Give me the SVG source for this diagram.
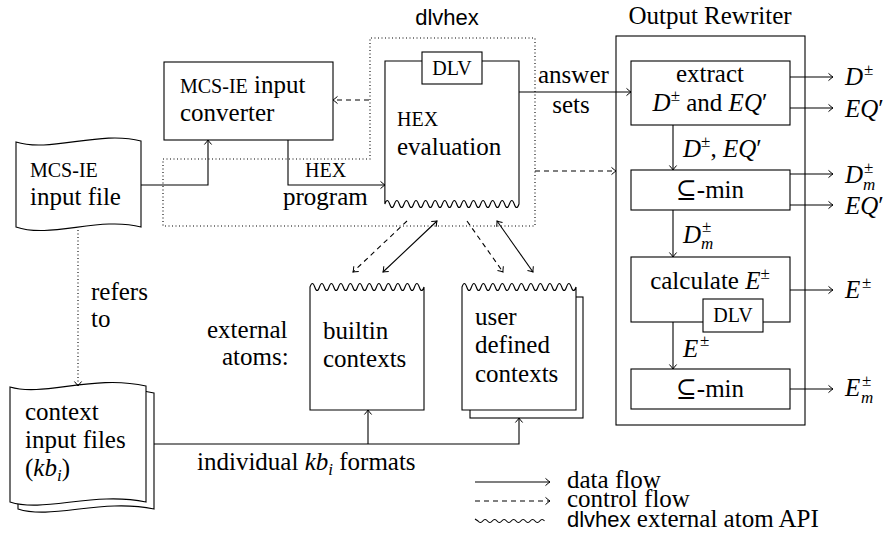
<svg xmlns="http://www.w3.org/2000/svg" width="886" height="540" viewBox="0 0 886 540" font-family="Liberation Serif, DejaVu Serif, serif">
<defs>
<style>
text{font-size:25px;fill:#000}
.sc{font-size:20px}
.sans{font-family:"Liberation Sans","DejaVu Sans",sans-serif;font-size:22px}
.mi{font-style:italic}
.sup{font-size:17px;font-style:normal}
.sub{font-size:17px;font-style:italic}
.box{fill:#fff;stroke:#000;stroke-width:1.1}
.ln{fill:none;stroke:#000;stroke-width:1.1}
.dash{stroke-dasharray:5 4}
.dot{stroke-dasharray:1 2.5}
</style>
<marker id="ah" viewBox="-6 -5 7 10" refX="0" refY="0" markerWidth="7" markerHeight="10" markerUnits="userSpaceOnUse" orient="auto-start-reverse">
<path d="M-4.5,-3.6 Q-1.5,-0.9 0,0 Q-1.5,0.9 -4.5,3.6" fill="none" stroke="#000" stroke-width="1" stroke-dasharray="none"/>
</marker>
</defs>
<rect width="886" height="540" fill="#fff"/>

<g id="dlvhex">
<path class="ln dot" d="M163,159 H370 V38 H535 V226 H163 Z"/>
<text class="sans" x="447" y="25" text-anchor="middle">dlvhex</text>
</g>

<g id="converter">
<rect class="box" x="164" y="62" width="169" height="78"/>
<text x="180" y="93"><tspan class="sc">MCS-IE</tspan> input</text>
<text x="180" y="121">converter</text>
</g>

<g id="inputfile">
<path class="box" d="M16,142 C50,153 100,130 141,141 V227 C100,216 50,239 16,227 Z"/>
<text class="sc" x="30" y="177">MCS-IE</text>
<text x="30" y="205">input file</text>
</g>

<g id="hexeval">
<path class="box" d="M385,61 H519 V204 q-2.39,7 -4.79,0 t-4.79,0 t-4.79,0 t-4.79,0 t-4.79,0 t-4.79,0 t-4.79,0 t-4.79,0 t-4.79,0 t-4.79,0 t-4.79,0 t-4.79,0 t-4.79,0 t-4.79,0 t-4.79,0 t-4.79,0 t-4.79,0 t-4.79,0 t-4.79,0 t-4.79,0 t-4.79,0 t-4.79,0 t-4.79,0 t-4.79,0 t-4.79,0 t-4.79,0 t-4.79,0 t-4.79,0 Z"/>
<rect class="box" x="422" y="52" width="60" height="32"/>
<text class="sc" x="452" y="75" text-anchor="middle" font-size="18">DLV</text>
<text class="sc" x="397" y="126">HEX</text>
<text x="397" y="155">evaluation</text>
</g>

<g id="builtin">
<path class="box" d="M310,410 V287 q2.375,-7 4.75,0 t4.75,0 t4.75,0 t4.75,0 t4.75,0 t4.75,0 t4.75,0 t4.75,0 t4.75,0 t4.75,0 t4.75,0 t4.75,0 t4.75,0 t4.75,0 t4.75,0 t4.75,0 t4.75,0 t4.75,0 t4.75,0 t4.75,0 t4.75,0 t4.75,0 t4.75,0 t4.75,0 V410 Z"/>
<text x="323" y="339">builtin</text>
<text x="323" y="367">contexts</text>
</g>

<g id="userdefined">
<rect class="box" x="470" y="297" width="113" height="121"/>
<path class="box" d="M462,410 V287 q2.375,-7 4.75,0 t4.75,0 t4.75,0 t4.75,0 t4.75,0 t4.75,0 t4.75,0 t4.75,0 t4.75,0 t4.75,0 t4.75,0 t4.75,0 t4.75,0 t4.75,0 t4.75,0 t4.75,0 t4.75,0 t4.75,0 t4.75,0 t4.75,0 t4.75,0 t4.75,0 t4.75,0 t4.75,0 V410 Z"/>
<text x="475" y="325">user</text>
<text x="475" y="353">defined</text>
<text x="475" y="382">contexts</text>
</g>

<g id="extatoms">
<text x="207" y="338">external</text>
<text x="222" y="365">atoms:</text>
</g>

<g id="contextfiles">
<path class="box" d="M18,394 C52,404 102,381 154,393 V509 C102,498 52,520 18,509 Z"/>
<path class="box" d="M10,387 C44,397 94,374 146,386 V502 C94,491 44,513 10,502 Z"/>
<text x="25" y="420">context</text>
<text x="25" y="448">input files</text>
<text x="25" y="476">(<tspan class="mi">kb</tspan><tspan class="sub" dy="5">i</tspan><tspan dy="-5">)</tspan></text>
</g>

<g id="rewriter">
<rect class="box" x="616" y="36" width="189" height="389"/>
<text x="710" y="24" text-anchor="middle">Output Rewriter</text>
</g>

<g id="extract">
<rect class="box" x="631" y="61" width="159" height="64"/>
<text x="710" y="82" text-anchor="middle">extract</text>
<text x="710" y="111" text-anchor="middle"><tspan class="mi">D</tspan><tspan class="sup" dy="-10">±</tspan><tspan dy="10"> and </tspan><tspan class="mi">EQ</tspan>′</text>
</g>

<g id="min1">
<rect class="box" x="631" y="170" width="159" height="40"/>
<text x="710" y="198" text-anchor="middle">⊆-min</text>
</g>

<g id="calculate">
<rect class="box" x="631" y="257" width="159" height="65"/>
<text x="710" y="289" text-anchor="middle">calculate <tspan class="mi">E</tspan><tspan class="sup" dy="-10">±</tspan></text>
<rect class="box" x="703" y="299" width="60" height="33"/>
<text class="sc" x="733" y="322" text-anchor="middle" font-size="18">DLV</text>
</g>

<g id="min2">
<rect class="box" x="631" y="369" width="159" height="40"/>
<text x="710" y="397" text-anchor="middle">⊆-min</text>
</g>

<g id="connectors">
<path class="ln" d="M141,185 H208 V140" marker-end="url(#ah)"/>
<path class="ln" d="M288,140 V185 H385" marker-end="url(#ah)"/>
<path class="ln dash" d="M369,100 H333" marker-end="url(#ah)"/>
<path class="ln" d="M519,92 H631" marker-end="url(#ah)"/>
<path class="ln dash" d="M535,171 H616" marker-end="url(#ah)"/>
<path class="ln" d="M790,77 H833" marker-end="url(#ah)"/>
<path class="ln" d="M790,108 H833" marker-end="url(#ah)"/>
<path class="ln" d="M673,125 V170" marker-end="url(#ah)"/>
<path class="ln" d="M790,174 H833" marker-end="url(#ah)"/>
<path class="ln" d="M790,205 H833" marker-end="url(#ah)"/>
<path class="ln" d="M673,210 V257" marker-end="url(#ah)"/>
<path class="ln" d="M790,290 H833" marker-end="url(#ah)"/>
<path class="ln" d="M673,322 V369" marker-end="url(#ah)"/>
<path class="ln" d="M790,389 H833" marker-end="url(#ah)"/>
<path class="ln dash" d="M407,221 L353,272" marker-end="url(#ah)"/>
<path class="ln" d="M437,221 L383,272" marker-start="url(#ah)" marker-end="url(#ah)"/>
<path class="ln dash" d="M467,221 L503,272" marker-end="url(#ah)"/>
<path class="ln" d="M497,221 L533,272" marker-start="url(#ah)" marker-end="url(#ah)"/>
<path class="ln dot" d="M78,230 V386" marker-end="url(#ah)"/>
<path class="ln" d="M154,444 H519 V418" marker-end="url(#ah)"/>
<path class="ln" d="M368,444 V410" marker-end="url(#ah)"/>
</g>

<g id="labels">
<text x="538" y="83">answer</text>
<text x="571" y="113" text-anchor="middle">sets</text>
<text class="sc" x="305" y="177">HEX</text>
<text x="283" y="205">program</text>
<text x="91" y="300">refers</text>
<text x="91" y="327">to</text>
<text x="197" y="470">individual <tspan class="mi">kb</tspan><tspan class="sub" dy="5">i</tspan><tspan dy="-5"> formats</tspan></text>
<text x="683" y="157"><tspan class="mi">D</tspan><tspan class="sup" dy="-10">±</tspan><tspan dy="10">, </tspan><tspan class="mi">EQ</tspan>′</text>
<text class="mi" x="683" y="243">D</text><text class="sup" x="702" y="232">±</text><text class="sub" x="701" y="249">m</text>
<text class="mi" x="683" y="357">E</text><text class="sup" x="700" y="346">±</text>
<text class="mi" x="845" y="85">D</text><text class="sup" x="864" y="75">±</text>
<text x="845" y="117"><tspan class="mi">EQ</tspan>′</text>
<text class="mi" x="845" y="183">D</text><text class="sup" x="864" y="173">±</text><text class="sub" x="863" y="190">m</text>
<text x="845" y="214"><tspan class="mi">EQ</tspan>′</text>
<text class="mi" x="845" y="298">E</text><text class="sup" x="862" y="288">±</text>
<text class="mi" x="845" y="396">E</text><text class="sup" x="862" y="386">±</text><text class="sub" x="861" y="403">m</text>
</g>

<g id="legend">
<path class="ln" d="M475,482 H550" marker-end="url(#ah)"/>
<path class="ln dash" d="M475,501 H550" marker-end="url(#ah)"/>
<path class="ln" d="M475,519 L478,521 q2.375,3 4.75,0 t4.75,0 t4.75,0 t4.75,0 t4.75,0 t4.75,0 t4.75,0 t4.75,0 t4.75,0 t4.75,0 t4.75,0 t4.75,0 t4.75,0 t4.75,0"/>
<text x="567" y="488">data flow</text>
<text x="567" y="507">control flow</text>
<text x="567" y="527"><tspan class="sans">dlvhex</tspan> external atom API</text>
</g>
</svg>
